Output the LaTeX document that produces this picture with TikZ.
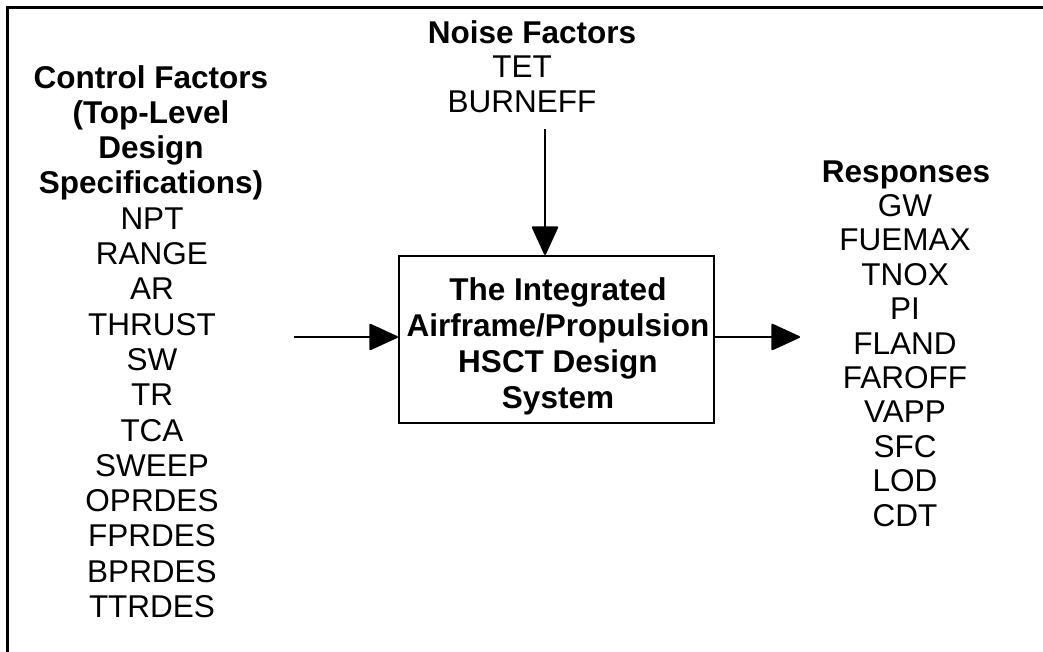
\documentclass[tikz,border=0pt]{standalone}
\usepackage{fontspec}
\setmainfont{Liberation Sans}
\usetikzlibrary{arrows.meta}

\tikzset{
  lbl/.style={anchor=base, inner sep=0pt, font=\fontsize{31.5}{35}\selectfont},
  hdr/.style={lbl, font=\fontsize{31.5}{35}\selectfont\bfseries},
  frame/.style={line width=3pt, line cap=rect},
  wire/.style={line width=2pt, -{Triangle[length=30pt,width=27pt,round]}},
  sysbox/.style={draw, line width=2.2pt, minimum width=315pt, minimum height=167pt, inner sep=0pt}
}

\begin{document}
\begin{tikzpicture}[x=1pt, y=-1pt]
\useasboundingbox (0,0) rectangle (1043,651);

% open frame: top rule and left rule
\coordinate (fTL) at (7.5,7.5);
\coordinate (fTR) at (1043,7.5);
\coordinate (fBL) at (7.5,651);
\draw[frame] (fTR) -- (fTL) -- (fBL);

% central system block
\node[sysbox] (sys) at (556.5,339.5) {};
\foreach \t [count=\i from 0] in {The Integrated, Airframe/Propulsion, HSCT Design, System}
  \node[hdr] (sys-\i) at (558, 300+36.3*\i) {\t};

% control factors column
\foreach \t [count=\i from 0] in {Control Factors, {(Top-Level}, Design, {Specifications)}}
  \node[hdr] (ctlh-\i) at (151, 88+35.3*\i) {\t};
\foreach \t [count=\i from 4] in {NPT, RANGE, AR, THRUST, SW, TR, TCA, SWEEP, OPRDES, FPRDES, BPRDES, TTRDES}
  \node[lbl] (ctl-\i) at (152, 88+35.3*\i) {\t};

% noise factors
\node[hdr] (noiseh) at (532, 43) {Noise Factors};
\foreach \t [count=\i from 1] in {TET, BURNEFF}
  \node[lbl] (noise-\i) at (522, 43+34.5*\i) {\t};

% responses
\node[hdr] (resph) at (906, 182) {Responses};
\foreach \t [count=\i from 1] in {GW, FUEMAX, TNOX, PI, FLAND, FAROFF, VAPP, SFC, LOD, CDT}
  \node[lbl] (resp-\i) at (905, 182+34.4*\i) {\t};

% connectors
\coordinate (inStart) at (294,337);
\coordinate (noiseStart) at (545,129);
\coordinate (outEnd) at (800,337);
\draw[wire] (inStart) -- (sys.west |- inStart);
\draw[wire] (noiseStart) -- (sys.north -| noiseStart);
\draw[wire] (sys.east |- outEnd) -- (outEnd);
\end{tikzpicture}
\end{document}
